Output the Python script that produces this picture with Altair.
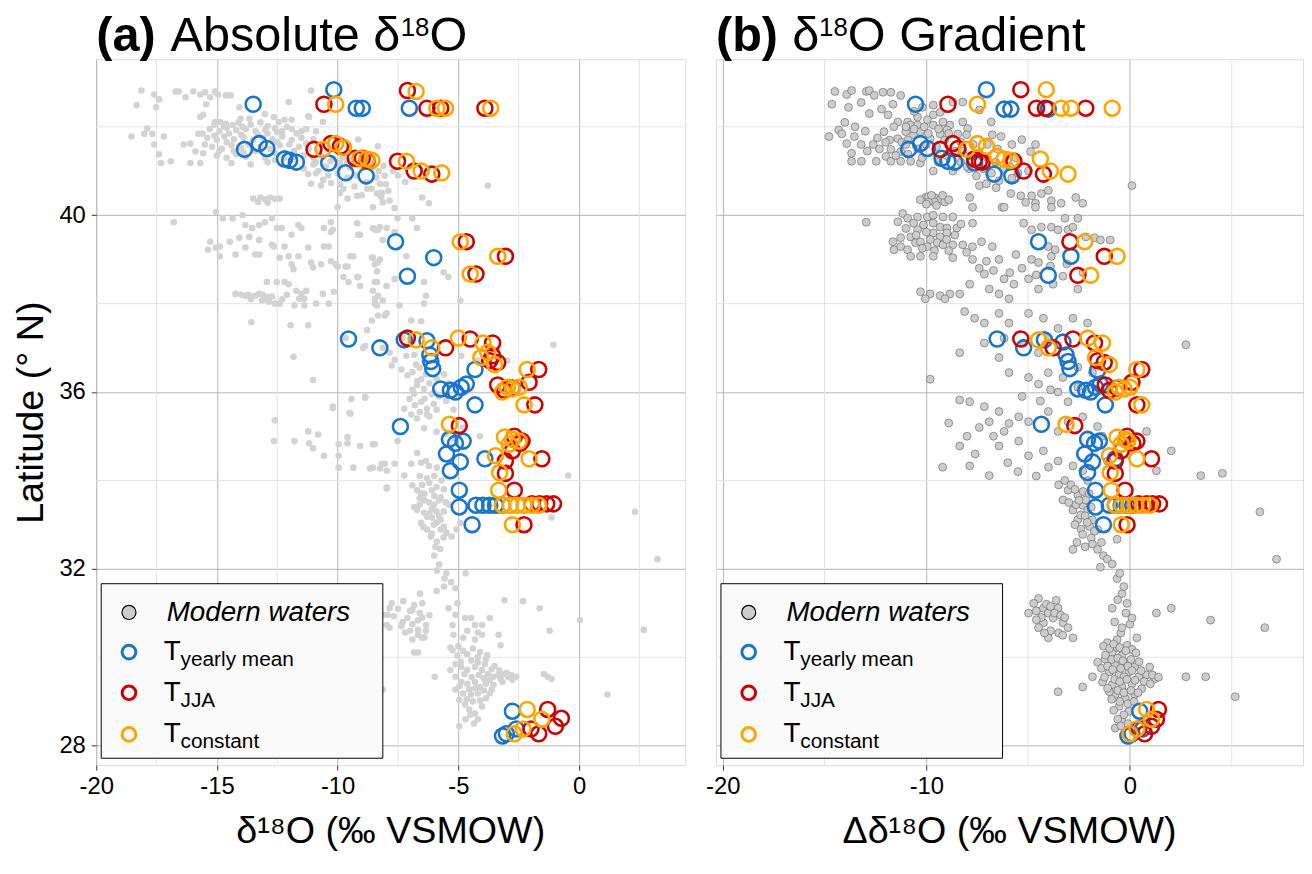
import altair as alt
import pandas as pd

FONT = "Liberation Sans"
C_YEAR = "#1874CD"
C_JJA = "#CD0000"
C_CONST = "#FFA500"

A_XDOM = [-20.0, 4.4]
B_XDOM = [-20.33, 8.5]
Y_DOM = [27.56, 43.53]
A_XTICKS = [-20, -15, -10, -5, 0]
A_XMINOR = [-17.5, -12.5, -7.5, -2.5, 2.5]
B_XTICKS = [-20, -10, 0]
B_XMINOR = [-15, -5, 5]
Y_TICKS = [28, 32, 36, 40]
Y_MINOR = [30, 34, 38, 42]

# ---------------- panel (a): modern waters (d18O, latitude) ----------------
A_MODERN = [
    (-18.13, 42.82), (-18.33, 42.49), (-17.52, 42.44), (-17.6, 42.73), (-17.4, 42.62), (-16.71, 42.8),
    (-16.59, 42.8), (-16.3, 42.67), (-15.98, 42.8), (-15.69, 42.73), (-15.49, 42.78), (-15.28, 42.67),
    (-15.08, 42.8), (-14.96, 42.73), (-15.45, 42.51), (-14.63, 42.71), (-14.43, 42.71), (-14.07, 42.44),
    (-14.02, 42.18), (-13.66, 42.18), (-13.01, 42.29), (-12.64, 42.22), (-12.44, 42.11), (-12.2, 42.16),
    (-11.91, 42.16), (-12.03, 42.56), (-11.1, 42.82), (-11.18, 42.22), (-15.57, 42.27), (-15.69, 42.22),
    (-15.08, 42.11), (-14.88, 42.11), (-14.63, 42.07), (-14.35, 42.04), (-13.94, 42.0), (-11.22, 42.24),
    (-10.61, 42.11),
    (-18.54, 41.78), (-18.01, 41.84), (-17.89, 41.96), (-17.68, 41.84), (-17.2, 41.78), (-17.6, 41.6),
    (-16.38, 41.6), (-17.4, 41.38), (-17.32, 41.18), (-16.91, 41.22), (-16.1, 41.18), (-15.89, 41.44),
    (-15.69, 41.18), (-15.57, 41.4), (-15.77, 41.84), (-16.1, 41.62),
    (-15.3, 41.95), (-14.9, 41.9), (-14.6, 41.98), (-14.2, 41.92), (-13.8, 41.95), (-13.4, 41.9),
    (-13.0, 41.93), (-12.6, 41.97), (-12.3, 41.9), (-11.9, 41.95), (-11.5, 41.9),
    (-15.4, 41.75), (-15.0, 41.7), (-14.7, 41.78), (-14.3, 41.72), (-13.9, 41.76), (-13.5, 41.7),
    (-13.1, 41.75), (-12.7, 41.72), (-12.3, 41.78), (-11.9, 41.7), (-11.5, 41.75), (-11.0, 41.72),
    (-15.2, 41.55), (-14.8, 41.5), (-14.4, 41.58), (-14.0, 41.52), (-13.2, 41.55), (-12.8, 41.5),
    (-12.4, 41.58), (-11.6, 41.55), (-11.2, 41.5), (-10.8, 41.45), (-10.4, 41.5),
    (-15.0, 41.35), (-14.6, 41.3), (-14.2, 41.38), (-13.8, 41.32), (-13.0, 41.3), (-11.4, 41.35),
    (-11.0, 41.3), (-10.6, 41.33), (-10.2, 41.28), (-9.8, 41.3), (-9.4, 41.25),
    (-14.4, 41.18), (-13.6, 41.15), (-12.9, 41.2), (-11.0, 41.15), (-10.5, 41.1), (-10.0, 41.12),
    (-9.5, 41.08), (-9.0, 41.1), (-8.6, 41.05), (-8.3, 41.0),
    (-15.1, 42.05), (-14.7, 42.0), (-14.1, 42.1), (-13.6, 42.05), (-13.2, 42.1), (-12.9, 42.02),
    (-12.5, 41.88), (-12.1, 42.0), (-11.7, 41.85), (-11.3, 41.95), (-10.9, 41.9), (-15.6, 41.85),
    (-15.1, 41.8), (-14.5, 41.85), (-14.0, 41.82), (-13.3, 41.82), (-12.9, 41.85), (-12.5, 41.65),
    (-12.0, 41.6), (-11.3, 41.62), (-10.7, 41.6), (-15.5, 41.6), (-14.6, 41.65), (-13.7, 41.6),
    (-13.4, 41.45), (-12.6, 41.4), (-12.2, 41.42), (-11.8, 41.45), (-14.9, 41.45), (-14.3, 41.45),
    (-13.9, 41.42), (-12.6, 41.25), (-12.2, 41.3), (-11.8, 41.32),
    (-10.3, 41.22), (-9.9, 41.18), (-9.6, 41.2), (-9.2, 41.15), (-8.9, 41.2), (-8.5, 41.18),
    (-8.1, 41.12), (-7.7, 41.0), (-7.5, 40.9), (-7.2, 40.75), (-10.9, 40.95), (-11.4, 41.05),
    (-10.8, 41.0), (-10.4, 40.9), (-10.0, 40.95), (-9.6, 40.85), (-9.2, 40.9), (-8.8, 40.75),
    (-8.4, 40.85), (-8.0, 40.7), (-10.6, 40.8), (-9.9, 40.7), (-9.3, 40.65), (-8.6, 40.6),
    (-7.9, 40.55), (-10.9, 41.2), (-9.9, 40.5), (-9.0, 40.45), (-8.2, 40.42),
    (-11.22, 40.93), (-11.1, 40.71), (-10.69, 40.67), (-10.28, 40.73), (-9.76, 40.6), (-9.59, 40.38),
    (-9.19, 40.44), (-8.78, 40.6), (-8.37, 40.49), (-8.54, 40.18), (-8.13, 40.29), (-10.0, 40.18),
    (-8.54, 39.71), (-8.33, 41.56), (-8.05, 40.89), (-8.25, 40.71), (-8.17, 40.51), (-7.85, 40.33),
    (-7.64, 40.16), (-7.52, 39.93), (-6.91, 39.93), (-6.71, 39.71), (-6.5, 40.4), (-6.22, 40.27),
    (-3.78, 40.67), (-9.15, 41.71),
    (-13.5, 40.38), (-13.2, 40.4), (-13.0, 40.36), (-12.8, 40.4), (-12.6, 40.37), (-12.4, 40.38),
    (-13.3, 40.3), (-12.9, 40.28),
    (-16.79, 39.84), (-15.04, 40.07), (-14.76, 39.93), (-14.35, 39.93), (-13.94, 40.0), (-13.82, 39.78),
    (-13.54, 39.71), (-13.25, 39.78), (-13.01, 39.84), (-12.72, 39.93), (-12.52, 39.71), (-12.32, 39.71),
    (-11.63, 39.78), (-15.28, 39.4), (-14.88, 39.29), (-14.47, 39.4), (-14.07, 39.49), (-13.66, 39.51),
    (-13.25, 39.44), (-12.72, 39.33), (-12.2, 39.29), (-11.91, 39.56), (-11.5, 39.71), (-10.57, 39.71),
    (-10.28, 39.62), (-11.22, 39.27), (-10.57, 39.29), (-10.28, 39.84), (-9.19, 39.82), (-9.07, 39.56),
    (-8.46, 39.67), (-8.25, 39.73), (-8.13, 39.44), (-7.97, 39.71),
    (-15.37, 39.22), (-15.04, 39.27), (-14.88, 39.07), (-14.23, 39.11), (-13.82, 39.27), (-13.41, 39.11),
    (-13.25, 39.11), (-12.64, 39.29), (-12.4, 39.04), (-12.03, 39.07), (-11.91, 38.89), (-11.83, 38.78),
    (-11.63, 39.07), (-11.1, 38.93), (-11.02, 38.82), (-10.69, 38.89), (-10.28, 38.96), (-10.0, 38.84),
    (-9.59, 38.84), (-9.47, 39.07), (-9.35, 39.07), (-8.54, 39.04), (-8.25, 39.0), (-8.46, 38.89),
    (-8.37, 38.73), (-8.37, 38.49), (-9.76, 38.6), (-9.55, 38.49), (-9.19, 38.6), (-9.07, 38.4),
    (-8.54, 38.29), (-8.46, 38.11), (-8.37, 37.96), (-7.97, 38.4), (-8.13, 38.07), (-12.93, 38.49),
    (-12.52, 38.49), (-12.2, 38.49), (-12.03, 38.44), (-14.23, 38.22), (-13.82, 38.18), (-13.54, 38.16),
    (-13.25, 38.22), (-13.13, 38.07), (-12.85, 38.04), (-12.72, 38.16), (-12.6, 38.0), (-12.4, 38.0),
    (-13.01, 38.11), (-11.71, 38.29), (-11.5, 38.22), (-11.3, 38.29), (-11.59, 38.11), (-11.38, 38.11),
    (-11.79, 37.96), (-11.38, 37.96), (-10.89, 38.0), (-10.61, 38.22), (-10.37, 38.0), (-10.16, 38.27),
    (-14.0, 38.2), (-13.7, 38.2), (-13.4, 38.18), (-13.1, 38.2), (-12.9, 38.15), (-13.6, 38.1),
    (-12.3, 38.1), (-12.1, 38.2),
    (-8.33, 37.73), (-8.05, 37.73), (-8.58, 37.62), (-8.78, 37.4), (-8.94, 37.0), (-8.13, 37.0),
    (-13.58, 37.58), (-11.95, 37.51), (-11.22, 37.51), (-11.83, 36.8), (-11.02, 36.27), (-9.43, 35.84),
    (-8.86, 35.87), (-10.2, 35.64), (-9.51, 35.53), (-12.6, 35.36), (-11.22, 35.11), (-10.81, 35.04),
    (-9.59, 34.98),
    (-10.2, 39.67), (-9.15, 39.56), (-8.33, 39.67), (-7.64, 39.62), (-6.71, 39.71), (-10.37, 39.29),
    (-8.58, 39.04), (-8.33, 38.93), (-7.15, 39.07), (-10.08, 38.89), (-9.67, 38.84), (-9.15, 38.6),
    (-8.46, 38.49), (-7.64, 38.56), (-6.42, 38.49), (-5.61, 38.71), (-5.41, 38.6), (-8.33, 38.18),
    (-7.44, 37.96), (-6.42, 38.0), (-6.34, 38.18), (-4.92, 38.07), (-8.46, 38.0), (-7.97, 37.78),
    (-6.95, 37.62), (-6.54, 37.6), (-7.32, 37.22), (-9.67, 37.22), (-8.86, 37.04), (-7.85, 36.89),
    (-7.64, 36.73), (-7.15, 36.82), (-6.83, 36.84), (-7.76, 36.6), (-7.36, 36.51), (-7.11, 36.38),
    (-6.75, 36.62), (-6.54, 36.29), (-6.71, 36.16), (-6.42, 36.07), (-6.83, 35.96), (-7.03, 35.84),
    (-6.54, 35.78), (-6.3, 35.62), (-6.02, 35.73), (-7.24, 35.62), (-6.95, 35.49), (-9.47, 35.51),
    (-10.2, 35.67), (-8.86, 35.89), (-1.06, 37.07), (-4.88, 36.82), (-4.19, 36.71), (-2.97, 36.71),
    (-5.6, 36.4), (-5.9, 36.3), (-5.4, 36.2), (-5.8, 35.9), (-5.5, 35.8), (-6.0, 36.0), (-5.2, 35.6),
    (-6.4, 36.7), (-6.6, 36.55), (-6.9, 36.45), (-6.35, 36.4), (-6.7, 36.25), (-6.2, 36.2), (-6.9, 36.05),
    (-6.1, 35.95), (-6.4, 35.85), (-6.8, 35.7), (-5.9, 35.6), (-6.6, 35.55), (-6.2, 35.45),
    (-6.71, 35.4), (-6.42, 35.18), (-6.3, 35.49), (-7.52, 34.89), (-6.71, 34.62), (-6.95, 34.38),
    (-6.54, 34.4), (-6.34, 34.44), (-6.22, 34.33), (-5.89, 34.29), (-8.05, 34.38), (-7.64, 34.38),
    (-8.25, 34.27), (-7.97, 33.84), (-6.91, 33.89), (-6.71, 33.78), (-6.54, 33.71), (-6.1, 33.78),
    (-5.73, 33.62), (-5.53, 33.51), (-6.83, 33.4), (-6.71, 33.33), (-6.42, 33.27), (-6.3, 33.18),
    (-6.1, 33.16), (-5.73, 33.11), (-6.54, 33.04), (-6.02, 33.0), (-6.3, 32.89), (-5.73, 32.89),
    (-5.49, 32.82), (-6.14, 32.73), (-5.89, 32.62), (-5.61, 32.71), (-0.45, 34.11), (-1.14, 33.16),
    (-4.11, 35.0), (-8.46, 34.82), (-5.28, 32.73), (-5.08, 32.89), (-4.92, 33.04), (-7.24, 34.11),
    (-6.2, 33.5), (-6.0, 33.45), (-5.9, 33.3), (-6.4, 33.55), (-5.8, 33.2), (-6.6, 33.6), (-5.6, 33.3),
    (-6.1, 33.35), (-5.9, 35.1), (-5.5, 35.05), (-5.2, 34.95), (-4.8, 35.2),
    (-6.6, 34.1), (-6.3, 34.05), (-6.0, 34.1), (-5.7, 34.0), (-6.5, 33.9), (-6.2, 33.95), (-5.9, 33.85),
    (-5.6, 33.8), (-6.4, 33.7), (-6.0, 33.65), (-5.8, 33.55), (-5.4, 33.45), (-6.6, 33.45), (-6.2, 33.25),
    (-5.9, 33.05), (-5.6, 32.95), (-6.45, 32.95), (-6.1, 32.8), (-5.95, 32.5), (-5.75, 32.45),
    (-12.64, 34.89), (-11.79, 34.89), (-11.18, 34.84), (-11.02, 34.73), (-10.57, 34.56), (-9.96, 34.82),
    (-9.59, 34.84), (-9.07, 34.78), (-8.54, 34.82), (-9.96, 34.56), (-9.96, 34.29), (-9.35, 34.29),
    (-8.66, 34.27), (-8.54, 34.29), (-8.17, 34.38), (-7.97, 34.22), (-7.97, 33.82),
    (-8.13, 30.96), (-7.85, 31.11),
    (-6.0, 32.3), (-5.8, 32.1), (-5.5, 31.9), (-5.3, 31.7), (-5.6, 31.6), (-5.9, 31.5), (-4.7, 31.9),
    (-5.89, 31.96), (-5.57, 31.78), (-5.12, 31.56), (-6.59, 31.44), (-7.76, 31.22), (-7.28, 31.27),
    (-6.83, 31.18), (-6.5, 31.22), (-6.91, 31.07), (-7.93, 30.96), (-7.68, 30.93), (-7.11, 30.89),
    (-6.67, 30.84), (-6.34, 30.73), (-6.34, 30.6), (-7.36, 30.71), (-7.2, 30.56), (-6.67, 30.62),
    (-6.67, 30.51), (-6.5, 30.44), (-7.97, 30.73), (-7.85, 30.67), (-3.09, 31.29), (-2.32, 31.27),
    (-7.5, 31.1), (-7.0, 31.05), (-6.6, 31.0), (-7.3, 30.8), (-6.9, 30.75), (-6.5, 30.9), (-7.0, 30.6),
    (-6.2, 30.95), (-6.4, 30.45), (-6.9, 30.4),
    (-1.63, 31.11), (0.04, 30.84), (2.68, 30.62), (-1.22, 30.6), (-3.33, 30.51), (-3.25, 30.27),
    (-3.7, 30.89), (-4.02, 30.73), (-5.04, 31.22), (-5.41, 31.11), (-5.12, 30.96), (-4.72, 30.89),
    (-4.47, 30.89), (-4.31, 30.73), (-4.63, 30.6), (-4.19, 30.56), (-4.02, 30.51), (-5.24, 30.73),
    (-5.2, 30.51), (-5.33, 30.22), (-4.8, 30.44), (-4.31, 30.4), (-6.83, 30.11), (-6.67, 30.11),
    (-5.98, 29.56), (-8.13, 29.27), (1.18, 29.16), (-1.46, 29.62), (-1.3, 29.56), (-1.14, 29.51),
    (2.32, 33.29), (3.25, 32.22),
    (-5.24, 30.16), (-5.04, 30.04), (-4.63, 30.07), (-4.47, 29.93), (-4.19, 30.0), (-3.86, 29.96),
    (-5.12, 29.84), (-4.88, 29.78), (-4.63, 29.71), (-4.31, 29.78), (-4.02, 29.71), (-3.78, 29.62),
    (-3.54, 29.56), (-3.25, 29.51), (-2.93, 29.56), (-2.6, 29.56), (-5.12, 29.56), (-4.88, 29.44),
    (-4.63, 29.4), (-4.31, 29.44), (-4.11, 29.33), (-3.86, 29.4), (-3.54, 29.38), (-5.12, 29.27),
    (-4.8, 29.18), (-4.47, 29.16), (-4.19, 29.18), (-3.7, 29.18), (-4.96, 29.04), (-4.72, 28.93),
    (-4.55, 28.82), (-4.31, 28.73), (-4.19, 28.6), (-4.96, 28.44), (-4.02, 28.89), (-3.86, 29.07),
    (-3.62, 29.27), (-3.17, 29.44), (-2.76, 29.49), (-3.62, 29.73), (-3.33, 29.6), (-3.09, 29.62),
    (-5.33, 29.71),
    (-5.0, 30.25), (-4.8, 30.15), (-4.4, 30.2), (-4.1, 30.12), (-3.8, 30.05), (-4.9, 29.9), (-4.2, 29.88),
    (-3.9, 29.85), (-3.5, 29.8), (-4.75, 29.62), (-4.45, 29.55), (-4.15, 29.6), (-3.95, 29.52),
    (-3.7, 29.48), (-3.3, 29.7), (-3.0, 29.65), (-2.8, 29.6), (-4.95, 29.35), (-4.55, 29.28),
    (-4.3, 29.3), (-3.95, 29.25), (-4.65, 29.05), (-4.4, 29.0), (-4.1, 29.02), (-4.5, 28.7),
    (-4.7, 28.6), (-4.35, 28.5),
]

A_YEARLY = [
    (-13.5, 42.51), (-10.16, 42.84), (-9.23, 42.42), (-8.98, 42.42), (-7.03, 42.42),
    (-13.86, 41.49), (-13.25, 41.62), (-12.93, 41.51), (-12.2, 41.27), (-11.99, 41.24), (-11.71, 41.2),
    (-10.37, 41.18), (-9.67, 40.96), (-8.82, 40.89),
    (-7.6, 39.4), (-6.02, 39.04), (-7.11, 38.62),
    (-9.55, 37.2), (-8.25, 37.0), (-7.24, 37.18), (-6.3, 37.16), (-6.18, 36.84), (-6.14, 36.69),
    (-6.06, 36.53), (-4.31, 36.51), (-5.73, 36.07), (-5.33, 36.04), (-5.12, 36.0), (-4.88, 36.11),
    (-4.67, 36.18), (-4.31, 35.71),
    (-7.4, 35.22), (-5.37, 34.93), (-5.12, 34.84), (-4.8, 34.89), (-5.49, 34.6), (-4.92, 34.42),
    (-3.9, 34.49), (-5.33, 34.22), (-4.96, 33.78), (-4.96, 33.4), (-4.27, 33.44), (-3.98, 33.44),
    (-3.7, 33.44), (-3.46, 33.44), (-3.17, 33.44), (-4.43, 33.0),
    (-2.76, 28.78), (-3.01, 28.27), (-3.17, 28.22), (-2.6, 28.38),
]
A_JJA = [
    (-10.57, 42.51), (-7.11, 42.82), (-6.3, 42.42), (-5.73, 42.42), (-3.9, 42.42),
    (-10.98, 41.49), (-10.28, 41.62), (-9.88, 41.56), (-9.27, 41.29), (-8.98, 41.29), (-8.78, 41.24),
    (-7.52, 41.22), (-6.83, 41.0), (-6.1, 40.93),
    (-4.67, 39.4), (-3.05, 39.07), (-4.27, 38.67),
    (-7.11, 37.22), (-5.53, 37.0), (-4.51, 37.2), (-3.58, 37.11), (-3.7, 36.71), (-3.37, 36.67),
    (-1.67, 36.51), (-3.37, 36.16), (-2.07, 36.22), (-1.83, 35.71), (-3.09, 36.04), (-2.76, 36.09),
    (-3.58, 36.82),
    (-4.96, 35.24), (-2.68, 35.0), (-2.44, 34.84), (-2.36, 34.89), (-3.05, 34.44), (-1.54, 34.49),
    (-3.05, 34.16), (-2.68, 33.78), (-1.95, 33.47), (-1.63, 33.47), (-1.34, 33.47), (-1.06, 33.47),
    (-2.28, 33.0), (-2.76, 34.67),
    (-1.3, 28.82), (-0.73, 28.62), (-0.98, 28.44), (-1.67, 28.27), (-1.99, 28.38),
]
A_CONST = [
    (-10.08, 42.51), (-6.75, 42.8), (-5.89, 42.42), (-5.53, 42.42), (-3.66, 42.42),
    (-10.61, 41.49), (-10.08, 41.62), (-9.76, 41.53), (-9.07, 41.29), (-8.78, 41.27), (-8.58, 41.24),
    (-7.15, 41.22), (-6.54, 41.0), (-5.69, 40.96),
    (-4.92, 39.4), (-3.37, 39.07), (-4.51, 38.67),
    (-6.75, 37.18), (-6.1, 37.0), (-5.0, 37.22), (-3.98, 37.11), (-4.07, 36.78), (-3.5, 36.62),
    (-2.15, 36.51), (-3.17, 36.0), (-2.76, 36.07), (-2.48, 36.11), (-2.28, 35.71), (-2.97, 36.11),
    (-3.78, 36.9),
    (-5.37, 35.27), (-3.09, 34.98), (-2.76, 34.93), (-2.89, 34.82), (-3.46, 34.56), (-2.07, 34.49),
    (-3.29, 34.18), (-3.33, 33.78), (-3.17, 33.44), (-2.85, 33.44), (-2.56, 33.44), (-2.28, 33.44),
    (-1.95, 33.44), (-1.67, 33.44), (-2.76, 33.0), (-2.48, 34.89),
    (-2.15, 28.82), (-1.54, 28.6), (-2.32, 28.38), (-2.68, 28.27),
]

# ---------------- panel (b): modern waters (Δd18O, latitude) ----------------
B_MODERN = [
    (-14.49, 42.8), (-14.64, 42.51), (-13.91, 42.73), (-13.82, 42.44), (-13.67, 42.82), (-12.95, 42.8),
    (-12.8, 42.82), (-12.56, 42.71), (-12.13, 42.78), (-11.74, 42.78), (-11.26, 42.71), (-11.64, 42.51),
    (-11.88, 42.27), (-11.4, 42.11), (-10.92, 42.11), (-10.43, 42.22), (-10.19, 42.44), (-9.66, 42.49),
    (-9.66, 42.27), (-9.32, 42.33), (-8.7, 42.56), (-8.21, 42.56), (-7.39, 42.38),
    (-14.78, 41.78), (-14.3, 41.93), (-14.15, 41.84), (-13.91, 41.62), (-13.53, 41.78), (-12.61, 41.6),
    (-12.08, 41.89), (-11.98, 41.33), (-12.46, 41.22), (-13.19, 41.22), (-13.67, 41.22), (-13.67, 41.4),
    (-11.4, 41.73), (-10.77, 42.04), (-10.43, 42.04), (-9.95, 42.16), (-9.66, 42.04), (-9.18, 42.11),
    (-8.84, 42.04), (-8.21, 42.11), (-7.97, 41.96), (-11.01, 41.89), (-10.63, 41.82), (-10.29, 41.89),
    (-9.81, 41.73), (-9.32, 41.84), (-8.99, 41.93), (-8.45, 41.84), (-8.02, 41.82), (-11.74, 41.49),
    (-11.26, 41.44), (-11.74, 41.22), (-11.26, 41.22), (-10.77, 41.22), (-10.29, 41.18), (-9.66, 41.0),
    (-8.7, 41.0), (-7.54, 40.89), (-7.39, 40.67), (-7.05, 40.71), (-6.57, 40.62), (-6.43, 40.78),
    (-6.76, 41.82), (-6.33, 41.78), (-6.81, 42.11), (-5.8, 41.6), (-5.31, 41.71), (-4.88, 41.44),
    (-4.64, 41.6), (-4.98, 41.0), (-5.8, 40.84), (-5.85, 40.49), (-5.36, 40.44), (-5.12, 40.29),
    (-4.64, 40.27), (-4.64, 40.18), (-4.35, 40.49), (-4.01, 40.56), (-3.86, 40.33), (-3.38, 40.27),
    (-2.66, 40.4), (-2.32, 40.27), (-3.86, 40.18), (-4.83, 40.44), (-6.28, 40.18), (-7.73, 40.18),
    (-7.87, 40.4), (0.1, 40.67),
    (-11.6, 42.0), (-11.0, 42.0), (-10.6, 41.95), (-10.1, 42.0), (-9.4, 41.95), (-8.9, 41.85),
    (-11.8, 41.7), (-11.2, 41.65), (-10.9, 41.7), (-9.9, 41.85), (-9.1, 41.7), (-8.3, 41.65),
    (-7.7, 41.6), (-11.5, 41.35), (-10.9, 41.38), (-10.2, 41.3), (-9.4, 41.2), (-8.3, 41.2),
    (-7.9, 41.05), (-7.0, 41.6), (-6.5, 41.5), (-6.0, 41.35), (-5.6, 41.3), (-12.4, 41.75),
    (-12.0, 41.65), (-13.0, 41.9), (-13.5, 42.0), (-14.0, 42.1), (-12.8, 42.3), (-12.2, 42.4),
    (-10.6, 42.35), (-13.2, 42.55),
    (-10.05, 40.4), (-9.9, 40.42), (-9.6, 40.4), (-9.3, 40.36), (-9.1, 40.3), (-9.6, 40.3), (-9.9, 40.3),
    (-10.3, 40.35), (-10.0, 40.25), (-9.5, 40.22), (-9.2, 40.45), (-8.9, 40.35), (-9.75, 40.45),
    (-8.2, 41.45), (-7.8, 41.35), (-7.4, 41.42), (-7.0, 41.3), (-6.6, 41.2), (-6.2, 41.05), (-5.9, 41.1),
    (-7.2, 41.05), (-8.0, 41.1), (-6.8, 40.95), (-5.5, 40.95), (-9.5, 41.55), (-9.0, 41.35), (-8.6, 41.45),
    (-10.0, 41.6), (-10.4, 41.5), (-11.0, 41.6), (-12.3, 41.5), (-12.9, 41.45), (-13.2, 41.6),
    (-11.16, 40.04), (-10.92, 39.93), (-10.43, 39.96), (-9.95, 39.96), (-9.66, 40.0), (-9.18, 39.96),
    (-8.7, 39.96), (-10.63, 39.82), (-10.14, 39.78), (-9.66, 39.82), (-9.32, 39.73), (-8.99, 39.71),
    (-8.5, 39.71), (-9.66, 39.6), (-9.32, 39.51), (-8.99, 39.6), (-10.43, 39.67), (-10.77, 39.51),
    (-11.26, 39.49), (-11.64, 39.4), (-11.59, 39.22), (-11.26, 39.29), (-10.92, 39.22), (-10.53, 39.38),
    (-10.29, 39.4), (-9.95, 39.29), (-9.47, 39.38), (-9.18, 39.33), (-8.7, 39.33), (-8.21, 39.33),
    (-8.02, 39.16), (-7.73, 39.29), (-7.29, 39.4), (-6.76, 39.29), (-12.95, 39.84), (-7.73, 39.82),
    (-11.0, 39.7), (-10.5, 39.55), (-10.0, 39.62), (-9.8, 39.45), (-9.0, 39.45), (-8.6, 39.55),
    (-8.3, 39.8), (-11.4, 39.85), (-10.2, 39.25), (-9.6, 39.2), (-8.9, 39.2),
    (-6.18, 40.18), (-5.22, 39.82), (-4.83, 39.67), (-4.35, 39.73), (-3.86, 39.73), (-3.53, 39.67),
    (-3.19, 39.93), (-3.04, 39.67), (-2.8, 39.73), (-2.56, 39.93), (-2.17, 39.51), (-1.74, 39.49),
    (-1.45, 39.44), (-0.97, 39.44), (-10.77, 39.07), (-10.29, 39.07), (-9.66, 39.07), (-8.7, 39.04),
    (-7.73, 39.0), (-7.05, 38.96), (-6.43, 39.0), (-5.6, 39.11), (-4.83, 39.0), (-4.49, 38.93),
    (-3.86, 39.07), (-3.67, 39.22), (-4.01, 39.29),
    (-7.4, 38.8), (-6.7, 38.75), (-5.9, 38.7), (-5.3, 38.8), (-4.6, 38.65), (-3.9, 38.85), (-3.1, 38.9),
    (-2.3, 38.7),
    (-10.29, 38.27), (-9.81, 38.22), (-9.32, 38.18), (-8.84, 38.22), (-8.36, 38.22), (-10.05, 38.11),
    (-9.08, 38.11), (-6.18, 38.56), (-5.7, 38.44), (-4.98, 38.56), (-4.49, 38.33), (-3.77, 38.44),
    (-3.29, 38.62), (-2.56, 38.33), (-6.43, 38.22), (-5.94, 38.11), (-7.15, 38.67), (-7.87, 38.44),
    (-6.91, 38.33),
    (-8.12, 37.82), (-7.63, 37.67), (-7.15, 37.56), (-6.43, 37.78), (-5.94, 37.56), (-4.98, 37.78),
    (-4.25, 37.67), (-3.53, 37.44), (-2.8, 37.67), (-2.08, 37.56), (-6.18, 37.22), (-5.22, 37.11),
    (-4.01, 37.22), (-7.15, 37.11), (-8.36, 36.89), (-6.43, 36.78), (-4.49, 36.89), (2.75, 37.07),
    (-5.94, 36.44), (-4.98, 36.33), (-4.49, 36.18), (-4.01, 36.44), (-3.29, 36.33), (-2.56, 36.56),
    (-1.84, 36.44), (-3.53, 36.0), (-3.04, 35.78), (-2.56, 36.11), (-9.81, 36.29), (-8.36, 35.82),
    (-7.87, 35.78), (-7.15, 35.67), (-6.43, 35.56), (-5.46, 35.44),
    (-5.3, 35.9), (-4.4, 35.8), (-3.9, 36.05),
    (-6.91, 35.33), (-5.94, 35.29), (-4.98, 35.33), (-4.01, 35.56), (-3.53, 35.11), (-3.04, 35.33),
    (-2.32, 35.44), (-1.59, 35.22), (-1.35, 35.0), (-6.18, 35.11),
    (-8.9, 35.3), (-8.0, 35.0), (-7.4, 35.2), (-6.7, 35.0), (-7.6, 34.6), (-6.0, 34.4), (-5.5, 34.2),
    (-4.6, 34.1), (-4.0, 34.3), (-3.5, 33.9), (-9.2, 34.3),
    (-6.43, 34.78), (-5.46, 34.89), (-4.98, 34.56), (-4.25, 34.67), (-3.53, 34.44), (-2.8, 34.33),
    (-2.32, 34.22), (-2.08, 34.0), (-1.11, 34.44), (0.82, 35.11), (2.03, 34.67), (1.3, 34.22),
    (3.48, 34.11), (-8.36, 34.78), (-7.87, 34.33), (-6.91, 34.11),
    (-3.04, 33.78), (-2.56, 33.67), (-2.32, 33.44), (-2.08, 33.33), (-1.84, 33.11), (-2.56, 33.11),
    (-1.59, 32.89), (-2.8, 33.33), (-3.29, 33.56), (-2.17, 33.56), (-2.42, 33.22), (-1.98, 32.96),
    (-3.2, 34.0), (-2.9, 33.9), (-2.7, 33.8), (-2.3, 33.75), (-2.0, 33.7), (-3.0, 33.5), (-2.65, 33.45),
    (-2.5, 33.55), (-1.9, 33.4), (-2.2, 33.2), (-2.7, 33.0), (-2.4, 32.9), (-2.1, 33.05), (-1.75, 32.85),
    (-1.9, 32.7), (-2.6, 32.6), (-2.2, 32.5), (-1.4, 32.6), (-1.3, 32.3),
    (6.38, 33.29), (7.2, 32.22), (6.62, 30.67), (5.17, 29.11), (2.75, 29.56), (3.72, 29.56), (4.54, 34.16),
    (-2.32, 32.78), (-1.84, 32.56), (-1.59, 32.44), (-1.11, 32.22), (-2.8, 32.44), (-0.63, 32.67),
    (-1.45, 32.04),
    (-4.49, 31.33), (-4.25, 31.11), (-4.01, 31.0), (-3.77, 30.89), (-3.53, 31.11), (-3.29, 30.78),
    (-4.25, 30.78), (-4.01, 30.44), (-3.04, 30.67), (-2.8, 30.44), (-4.49, 30.67), (-4.98, 31.0),
    (-4.73, 31.22), (-3.62, 31.29),
    (-4.6, 31.05), (-4.35, 30.9), (-4.1, 31.2), (-3.9, 31.15), (-3.7, 31.0), (-3.4, 30.95), (-3.2, 30.9),
    (-4.6, 30.85), (-3.9, 30.6), (-3.5, 30.55), (-3.3, 30.5), (-4.2, 30.55),
    (-0.87, 32.11), (-0.63, 31.78), (-0.39, 31.44), (-0.14, 31.22),
    (-0.5, 31.9), (-0.3, 31.6), (-0.6, 31.3), (-0.2, 31.0), (0.0, 30.75), (-0.45, 30.55), (-0.75, 30.8),
    (-0.87, 31.11), (0.1, 30.89), (-0.39, 30.67), (0.34, 30.44), (1.3, 31.0), (2.03, 31.11), (3.96, 30.84),
    (-1.11, 30.33), (-0.63, 30.4), (-0.14, 30.27), (-0.87, 30.11), (-0.39, 30.04), (0.1, 30.18),
    (-1.21, 29.96), (-0.72, 29.82), (-0.24, 29.89), (0.24, 29.78), (-1.01, 29.67), (-0.53, 29.6),
    (-0.05, 29.67), (0.43, 29.56), (0.82, 29.6), (1.21, 29.51), (-1.35, 29.44), (-0.87, 29.38),
    (-0.39, 29.33), (0.1, 29.4), (0.58, 29.29), (-0.72, 29.16), (-0.24, 29.07), (0.24, 29.16),
    (-0.53, 28.89), (-0.05, 28.78), (-0.39, 28.56), (-0.72, 28.4), (-0.63, 30.22), (-0.29, 29.56),
    (-1.01, 29.22), (-1.59, 29.89), (-1.84, 29.56), (-2.32, 29.33), (-3.53, 29.22), (0.97, 29.78),
    (-1.3, 30.25), (-1.0, 30.2), (-0.8, 30.3), (-0.5, 30.22), (-0.2, 30.15), (0.3, 30.1), (-1.2, 30.05),
    (-0.9, 29.95), (-0.6, 29.98), (-0.35, 29.92), (0.05, 29.95), (0.45, 29.9), (-1.4, 29.75),
    (-1.1, 29.8), (-0.85, 29.72), (-0.45, 29.75), (-0.1, 29.8), (0.1, 29.7), (0.55, 29.7),
    (-1.25, 29.55), (-0.75, 29.5), (-0.5, 29.45), (-0.15, 29.5), (0.25, 29.48), (0.7, 29.45),
    (1.0, 29.4), (-1.1, 29.3), (-0.6, 29.25), (-0.3, 29.2), (0.05, 29.25), (0.4, 29.2), (-0.9, 29.05),
    (-0.5, 29.0), (-0.1, 28.95), (0.2, 29.0), (-0.8, 28.8), (-0.3, 28.7), (-0.6, 28.6), (-0.1, 28.5),
    (-0.45, 28.45), (1.1, 29.6), (1.4, 29.55),
]

B_YEARLY = [
    (-10.53, 42.51), (-7.05, 42.84), (-6.18, 42.4), (-5.85, 42.4), (-4.01, 42.4),
    (-10.87, 41.49), (-10.29, 41.62), (-9.95, 41.51), (-9.23, 41.29), (-8.94, 41.22), (-8.6, 41.2),
    (-7.63, 41.18), (-6.67, 40.93), (-5.8, 40.89),
    (-4.49, 39.4), (-2.9, 39.07), (-4.01, 38.64),
    (-6.52, 37.2), (-5.22, 37.0), (-4.2, 37.18), (-3.29, 37.13), (-3.14, 36.84), (-3.04, 36.69),
    (-2.95, 36.53), (-1.59, 36.49), (-2.56, 36.07), (-2.17, 36.04), (-1.93, 36.0), (-1.69, 36.11),
    (-1.45, 36.18), (-1.21, 35.71),
    (-4.35, 35.27), (-2.08, 34.93), (-1.74, 34.84), (-1.5, 34.89), (-2.22, 34.6), (-1.84, 34.42),
    (-0.72, 34.49), (-2.08, 34.18), (-1.69, 33.78), (-1.69, 33.4), (-1.01, 33.44), (-0.72, 33.44),
    (-0.43, 33.44), (-0.14, 33.44), (0.14, 33.44), (-1.3, 33.0),
    (0.48, 28.78), (0.1, 28.27), (-0.1, 28.22), (0.63, 28.38),
]
B_JJA = [
    (-8.94, 42.51), (-5.36, 42.84), (-4.59, 42.42), (-4.15, 42.42), (-2.17, 42.42),
    (-9.32, 41.49), (-8.7, 41.62), (-8.45, 41.51), (-7.63, 41.27), (-7.39, 41.22), (-7.25, 41.2),
    (-5.7, 41.22), (-5.22, 41.0), (-4.25, 40.93),
    (-2.95, 39.4), (-1.26, 39.07), (-2.56, 38.64),
    (-5.36, 37.2), (-3.77, 37.0), (-2.8, 37.2), (-1.74, 37.11), (-1.59, 36.71), (-1.26, 36.67),
    (0.58, 36.51), (-1.21, 36.16), (0.1, 36.22), (0.34, 35.71), (-1.01, 36.04), (-0.63, 36.09),
    (-2.71, 35.24), (-0.14, 35.0), (0.14, 34.84), (0.34, 34.89), (-0.72, 34.44), (1.06, 34.49),
    (-0.72, 34.16), (-0.24, 33.78), (0.43, 33.47), (0.82, 33.47), (1.11, 33.47), (1.45, 33.47),
    (-0.14, 33.0), (-0.43, 34.67),
    (1.4, 28.82), (1.3, 28.6), (1.06, 28.44), (0.72, 28.27), (0.43, 28.38),
]
B_CONST = [
    (-7.49, 42.51), (-4.11, 42.84), (-3.38, 42.42), (-2.9, 42.42), (-0.87, 42.42),
    (-8.02, 41.49), (-7.49, 41.62), (-7.05, 41.56), (-6.52, 41.33), (-6.18, 41.27), (-5.85, 41.24),
    (-4.4, 41.27), (-3.91, 41.0), (-3.04, 40.93),
    (-2.22, 39.4), (-0.63, 39.07), (-1.93, 38.64),
    (-4.49, 37.18), (-4.01, 37.0), (-2.08, 37.22), (-1.35, 37.11), (-1.69, 36.78), (-1.01, 36.62),
    (0.34, 36.51), (-0.72, 36.0), (-0.29, 36.07), (0.0, 36.11), (0.58, 35.71), (-0.53, 36.11),
    (-3.14, 35.27), (-0.63, 34.98), (-0.24, 34.93), (-0.43, 34.82), (-1.01, 34.56), (0.34, 34.49),
    (-0.97, 34.18), (-0.92, 33.78), (-0.72, 33.44), (-0.39, 33.44), (-0.05, 33.44), (0.29, 33.44),
    (0.63, 33.44), (0.97, 33.44), (-0.43, 33.0), (-0.1, 34.89),
    (0.82, 28.82), (1.06, 28.6), (0.34, 28.38), (0.0, 28.27),
]

H = 712
ONE = pd.DataFrame({"k": [0]})


def frame(pairs):
    return pd.DataFrame(pairs, columns=["x", "lat"])


def txt(s, x, y, size, style="normal", weight="normal", align="left"):
    return alt.Chart(ONE).mark_text(
        text=s, font=FONT, fontSize=size, fontStyle=style, fontWeight=weight,
        color="#000", align=align, baseline="alphabetic"
    ).encode(x=alt.value(x), y=alt.value(y))


def sym(x, y, stroke, fill=None, sw=3.0, size=190):
    kw = dict(shape="circle", size=size, stroke=stroke, strokeWidth=sw, opacity=1)
    if fill:
        kw.update(filled=True, fill=fill)
    else:
        kw.update(filled=False)
    return alt.Chart(ONE).mark_point(**kw).encode(x=alt.value(x), y=alt.value(y))


def panel(modern, yearly, jja, const, width, xdom, xticks, xminor, xtitle, title_parts,
          left, grey_style):
    xs = alt.Scale(domain=xdom, nice=False, zero=False)
    ys = alt.Scale(domain=Y_DOM, nice=False, zero=False)
    xax = alt.Axis(values=xticks, title=None, labelExpr="'' + datum.value", grid=True,
                   gridColor="#b5b5b5", gridWidth=1, ticks=True, tickColor="#333", tickSize=5,
                   domain=False, labelFont=FONT, labelFontSize=24, labelColor="#000",
                   labelPadding=5, labelFlush=False)
    if left:
        yax = alt.Axis(values=Y_TICKS, title="Latitude (° N)", grid=True, gridColor="#b5b5b5",
                       ticks=True, tickColor="#333", tickSize=5, domain=False, labelFont=FONT,
                       labelFontSize=24, labelColor="#000", labelPadding=6, labelFlush=False,
                       titleFont=FONT, titleFontSize=38, titleFontWeight="normal",
                       titleColor="#000", titlePadding=9)
    else:
        yax = alt.Axis(values=Y_TICKS, title=None, grid=True, gridColor="#b5b5b5",
                       labels=False, ticks=False, domain=False)

    def X():
        return alt.X("x:Q", scale=xs, axis=xax)

    def Y():
        return alt.Y("lat:Q", scale=ys, axis=yax)

    minor_x = alt.Chart(pd.DataFrame({"x": xminor})).mark_rule(
        color="#e4e4e4", strokeWidth=1).encode(x=X())
    minor_y = alt.Chart(pd.DataFrame({"lat": Y_MINOR})).mark_rule(
        color="#e4e4e4", strokeWidth=1).encode(y=Y())
    grey = alt.Chart(frame(modern)).mark_point(**grey_style).encode(x=X(), y=Y())

    def ring(pairs, color):
        return alt.Chart(frame(pairs)).mark_point(
            shape="circle", size=228, filled=False, stroke=color, strokeWidth=2.6, opacity=1
        ).encode(x=X(), y=Y())

    legend = [
        alt.Chart(ONE).mark_rect(fill="#fafafa", stroke="#000", strokeWidth=1).encode(
            x=alt.value(5), x2=alt.value(289), y=alt.value(529), y2=alt.value(705)),
        sym(33, 558, "#000", fill="#cccccc", sw=1.2, size=200),
        txt("Modern waters", 71, 567, 28, style="italic"),
        sym(33, 598, C_YEAR),
        txt("T", 68, 606, 28), txt("yearly mean", 85, 612, 21),
        sym(33, 639, C_JJA),
        txt("T", 68, 647, 28), txt("JJA", 85, 653, 21),
        sym(33, 681, C_CONST),
        txt("T", 68, 689, 28), txt("constant", 85, 695, 21),
    ]
    titles = [txt(s, x, y, sz, weight=wt) for (s, x, y, sz, wt) in title_parts]
    xlab = txt(xtitle, width / 2, H + 78, 38, align="center")

    layers = [minor_x, minor_y, grey, ring(yearly, C_YEAR), ring(jja, C_JJA),
              ring(const, C_CONST)] + legend + titles + [xlab]
    return alt.layer(*layers).properties(width=width, height=H)


pa = panel(
    A_MODERN, A_YEARLY, A_JJA, A_CONST, 594, A_XDOM, A_XTICKS, A_XMINOR, "δ¹⁸O (‰ VSMOW)",
    [("(a)", 0, -8, 49, "bold"), ("Absolute δ", 75, -8, 49, "normal"),
     ("18", 307, -23, 26, "normal"), ("O", 336, -8, 49, "normal")],
    True,
    dict(shape="circle", size=44, filled=True, fill="#d3d3d3", strokeWidth=0, opacity=1),
)
pb = panel(
    B_MODERN, B_YEARLY, B_JJA, B_CONST, 592, B_XDOM, B_XTICKS, B_XMINOR, "Δδ¹⁸O (‰ VSMOW)",
    [("(b)", 0, -8, 49, "bold"), ("δ", 77, -8, 49, "normal"),
     ("18", 104, -23, 26, "normal"), ("O Gradient", 133, -8, 49, "normal")],
    False,
    dict(shape="circle", size=64, filled=True, fill="#cdcdcd", stroke="#606060",
         strokeWidth=0.6, opacity=1),
)

chart = alt.hconcat(pa, pb, spacing=18).properties(
    padding={"left": 3, "top": 0, "right": 0, "bottom": 0},
    background="white",
).configure_view(stroke="#111", strokeWidth=1.1).configure(font=FONT)

chart.save("out.html", embed_options={"renderer": "svg", "actions": False})
